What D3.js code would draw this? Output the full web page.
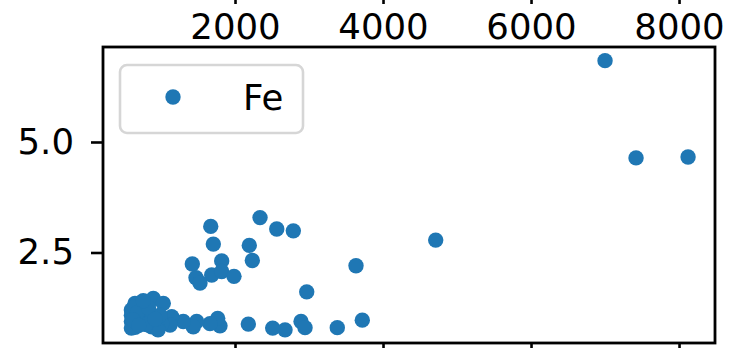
<!DOCTYPE html>
<html>
<head>
<meta charset="utf-8">
<script src="https://cdn.jsdelivr.net/npm/d3@7"></script>
<style>
  html, body { margin: 0; padding: 0; background: #fff; }
  svg { display: block; font-family: "DejaVu Sans", sans-serif; }
</style>
</head>
<body>
<svg id="chart" width="729" height="348"></svg>
<script>
// Fe measurements: x position and Fe value
const seriesName = "Fe";
const feX = [
  1672, 2338, 2564, 2788, 1707, 2193, 2234, 1820, 1423, 1685, 1820, 1986, 1473, 1527,
  4712, 3635, 2969,
  7000, 7419, 8122,
  3720, 3382, 2892, 2946, 2676, 2509, 2180, 1797, 1766, 1662, 1482, 1436, 1301, 1145,
  1122, 1009, 874, 896, 1031,
  649, 600, 693, 600, 739, 874, 828, 739, 600, 649, 784, 986, 600, 960,
  640, 730, 680, 620, 800, 830, 700, 920, 760
];
const feY = [
  3.09, 3.29, 3.03, 2.99, 2.69, 2.66, 2.32, 2.31, 2.24, 1.99, 2.07, 1.96, 1.93, 1.81,
  2.78, 2.20, 1.61,
  6.84, 4.64, 4.66,
  0.97, 0.80, 0.94, 0.80, 0.75, 0.79, 0.88, 0.84, 1.01, 0.89, 0.94, 0.82, 0.94, 1.05,
  0.86, 0.89, 0.82, 1.46, 1.35,
  1.35, 1.20, 1.16, 0.94, 0.94, 0.94, 1.20, 1.35, 1.08, 0.81, 1.02, 1.08, 0.79, 0.75,
  1.27, 1.04, 1.13, 0.98, 0.87, 1.25, 0.85, 0.99, 1.41
];
const xTicks = [2000, 4000, 6000, 8000];
const yTicks = [2.5, 5.0];

const svg = d3.select("#chart");
const plot = { left: 103, right: 715, top: 47, bottom: 343 };
const fontSize = 35.5;
const blue = "#1f77b4";
const markerR = 7.7;

const x = d3.scaleLinear().domain([216.2, 8486]).range([plot.left, plot.right]);
const y = d3.scaleLinear().domain([0.4525, 7.149]).range([plot.bottom, plot.top]);

// shared x tick labels of the panel above
const topAxis = svg.append("g")
  .attr("transform", "translate(0,-8)")
  .call(d3.axisBottom(x).tickValues(xTicks).tickSize(12).tickFormat(d3.format("d")));
topAxis.select(".domain").remove();
topAxis.selectAll("line").attr("stroke", "#000").attr("stroke-width", 2.6);
topAxis.selectAll("text")
  .attr("y", 47).attr("dy", null)
  .attr("fill", "#000")
  .style("font-size", fontSize + "px")
  .style("font-family", "DejaVu Sans, sans-serif");

// bottom axis ticks (labels fall below the visible area)
const bottomAxis = svg.append("g")
  .attr("transform", `translate(0,${plot.bottom})`)
  .call(d3.axisBottom(x).tickValues(xTicks).tickSize(12).tickFormat(""));
bottomAxis.select(".domain").remove();
bottomAxis.selectAll("line").attr("stroke", "#000").attr("stroke-width", 2.6);

// left axis
const leftAxis = svg.append("g")
  .attr("transform", `translate(${plot.left},0)`)
  .call(d3.axisLeft(y).tickValues(yTicks).tickSize(12).tickPadding(17).tickFormat(d3.format(".1f")));
leftAxis.select(".domain").remove();
leftAxis.selectAll("line").attr("stroke", "#000").attr("stroke-width", 2.6);
leftAxis.selectAll("text")
  .attr("fill", "#000")
  .style("font-size", fontSize + "px")
  .style("font-family", "DejaVu Sans, sans-serif");

// points
const pts = feX.map((v, i) => ({ x: v, y: feY[i] }));
svg.append("g")
  .selectAll("circle")
  .data(pts)
  .join("circle")
  .attr("cx", d => x(d.x))
  .attr("cy", d => y(d.y))
  .attr("r", markerR)
  .attr("fill", blue);

// frame
svg.append("rect")
  .attr("x", plot.left).attr("y", plot.top)
  .attr("width", plot.right - plot.left).attr("height", plot.bottom - plot.top)
  .attr("fill", "none").attr("stroke", "#000").attr("stroke-width", 2.8);

// legend
const lg = svg.append("g");
lg.append("rect")
  .attr("x", 120).attr("y", 65).attr("width", 183).attr("height", 68).attr("rx", 7)
  .attr("fill", "#fff").attr("fill-opacity", 0.8)
  .attr("stroke", "#d6d6d6").attr("stroke-width", 2.6);
lg.append("circle").attr("cx", 173).attr("cy", 97).attr("r", markerR).attr("fill", blue);
lg.append("text")
  .attr("x", 243).attr("y", 110)
  .attr("fill", "#000")
  .style("font-size", fontSize + "px")
  .text(seriesName);
</script>
</body>
</html>
